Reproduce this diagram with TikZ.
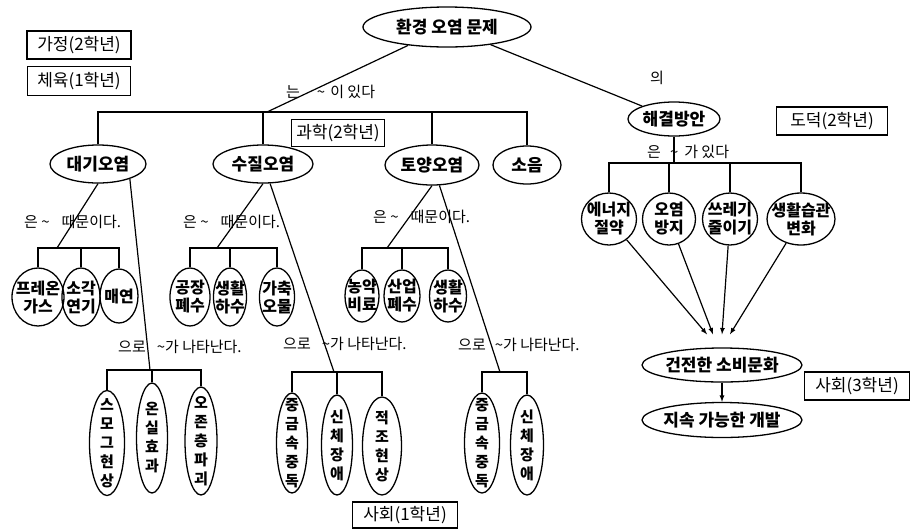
\documentclass[tikz,border=0pt]{standalone}
\usepackage{fontspec}
\setmainfont{Noto Sans CJK KR}
\usetikzlibrary{shapes.geometric,calc}

\begin{document}
\begin{tikzpicture}[x=1pt, y=-1pt,
  ell/.style={draw, ellipse, line width=1.3pt, inner sep=-12pt, font=\bfseries\fontsize{17}{19}\selectfont},
  sml/.style={ell, align=center, font=\bfseries\fontsize{16}{18}\selectfont},
  vrt/.style={ell, align=center, inner sep=-20pt, font=\bfseries\fontsize{15}{19}\selectfont},
  wh/.style 2 args={minimum width=#1pt, minimum height=#2pt},
  subj/.style={draw, line width=1.2pt, inner sep=1pt, font=\fontsize{17}{19}\selectfont},
  lbl/.style={font=\fontsize{15}{17}\selectfont, inner sep=0pt},
  cn/.style={line width=1.2pt}]
\useasboundingbox (0,0) rectangle (911,531);
\node[ell, wh={168}{40}] (top) at (447,27) {환경 오염 문제};
\node[ell, wh={96}{38}] (daegi) at (98,164) {대기오염};
\node[ell, wh={100}{38}] (sujil) at (263,164) {수질오염};
\node[ell, wh={94}{40}] (toyang) at (432,165) {토양오염};
\node[ell, wh={68}{38}] (soeum) at (527,165) {소음};
\node[ell, wh={92}{34}] (haegyeol) at (674,119) {해결방안};
\node[sml, wh={52}{58}] (freon) at (38,297) {프레온\\가스};
\node[sml, wh={38}{58}] (sogak) at (81,297) {소각\\연기};
\node[sml, wh={38}{54}] (maeyeon) at (119,296) {매연};
\node[sml, wh={40}{58}] (gongjang) at (190,297) {공장\\폐수};
\node[sml, wh={33}{58}] (saenghwal1) at (230,297) {생활\\하수};
\node[sml, wh={35}{58}] (gachuk) at (277,297) {가축\\오물};
\node[sml, wh={34}{52}] (nongyak) at (362,296) {농약\\비료};
\node[sml, wh={36}{52}] (saneop) at (402,296) {산업\\폐수};
\node[sml, wh={37}{52}] (saenghwal2) at (448,296) {생활\\하수};
\node[vrt, wh={35}{105}] (smog) at (107,443) {스\\모\\그\\현\\상};
\node[vrt, wh={31}{110}] (onsil) at (152,438) {온\\실\\효\\과};
\node[vrt, wh={32}{108}] (ozone) at (201,441) {오\\존\\층\\파\\괴};
\node[vrt, wh={31}{100}] (jung1) at (292,443) {중\\금\\속\\중\\독};
\node[vrt, wh={31}{100}] (sinche1) at (337,445) {신\\체\\장\\애};
\node[vrt, wh={39}{98}] (jeokjo) at (382,446) {적\\조\\현\\상};
\node[vrt, wh={35}{100}] (jung2) at (482,443) {중\\금\\속\\중\\독};
\node[vrt, wh={33}{100}] (sinche2) at (527,445) {신\\체\\장\\애};
\node[sml, wh={55}{52}] (energy) at (609,219) {에너지\\절약};
\node[sml, wh={53}{52}] (bangji) at (669,219) {오염\\방지};
\node[sml, wh={55}{52}] (sseuregi) at (730,219) {쓰레기\\줄이기};
\node[sml, wh={68}{52}] (seupgwan) at (801,219) {생활습관\\변화};
\node[ell, wh={160}{34}] (geonjeon) at (722,365) {건전한 소비문화};
\node[ell, wh={160}{35}] (jisok) at (722,420) {지속 가능한 개발};
\node[subj, minimum width=104pt, minimum height=28pt] (gajeong) at (79,45) {가정(2학년)};
\node[subj, minimum width=103pt, minimum height=29pt] (cheyuk) at (79,81) {체육(1학년)};
\node[subj, minimum width=93pt, minimum height=27pt] (gwahak) at (338,133) {과학(2학년)};
\node[subj, minimum width=111pt, minimum height=28pt] (dodeok) at (832,121) {도덕(2학년)};
\node[subj, minimum width=105pt, minimum height=28pt] (sahoe3) at (857,386) {사회(3학년)};
\node[subj, minimum width=105pt, minimum height=26pt] (sahoe1) at (405,515) {사회(1학년)};
\node[lbl, anchor=west] (lbl1) at (286,92) {는\hspace{17pt}\textasciitilde\hspace{5pt}이 있다};
\node[lbl] (lbl2) at (657,78) {의};
\node[lbl, anchor=west] (lbl3) at (647,152) {은\hspace{9pt}\textasciitilde\hspace{6pt}가 있다};
\node[lbl, anchor=west] (lbl4) at (24,222) {은 \textasciitilde\hspace{12pt}때문이다.};
\node[lbl, anchor=west] (lbl5) at (183,222) {은 \textasciitilde\hspace{12pt}때문이다.};
\node[lbl, anchor=west] (lbl6) at (373,217) {은 \textasciitilde\hspace{12pt}때문이다.};
\node[lbl, anchor=west] (lbl7) at (118,347) {으로\hspace{11pt}\textasciitilde 가 나타난다.};
\node[lbl, anchor=west] (lbl8) at (283,344) {으로\hspace{11pt}\textasciitilde 가 나타난다.};
\node[lbl, anchor=west] (lbl9) at (458,345) {으로\hspace{9pt}\textasciitilde 가 나타난다.};
\coordinate (hub) at (267,112);
\draw[cn] (top) -- (hub);
\draw[cn] (daegi.north) |- (hub) -| (soeum.north);
\draw[cn] (sujil.north) -- (sujil.north |- hub);
\draw[cn] (toyang.north) -- (toyang.north |- hub);
\draw[cn] (top) -- (haegyeol);
\coordinate (solhub) at (674,163);
\draw[cn] (haegyeol) -- (solhub);
\draw[cn] (energy.north) |- (solhub) -| (seupgwan.north);
\draw[cn] (bangji.north) -- (bangji.north |- solhub);
\draw[cn] (sseuregi.north) -- (sseuregi.north |- solhub);
\draw[cn, -latex] (energy) -- ([xshift=-15pt, yshift=13pt]geonjeon.north);
\draw[cn, -latex] (bangji) -- ([xshift=-9pt, yshift=13pt]geonjeon.north);
\draw[cn, -latex] (sseuregi) -- ([yshift=13pt]geonjeon.north);
\draw[cn, -latex] (seupgwan) -- ([xshift=8pt, yshift=13pt]geonjeon.north);
\draw[cn, -latex] (geonjeon) -- (jisok);
\coordinate (dh1) at (57,248);
\draw[cn] (daegi.south) -- (dh1);
\draw[cn] (freon.north) |- (dh1) -| (maeyeon.north);
\draw[cn] (sogak.north) -- (sogak.north |- dh1);
\coordinate (dh2) at (150,370);
\draw[cn] (daegi.-25) -- (dh2);
\draw[cn] (smog.north) |- (dh2) -| (ozone.north);
\draw[cn] (onsil.north) -- (onsil.north |- dh2);
\coordinate (sh1) at (217,248);
\draw[cn] (sujil.south) -- (sh1);
\draw[cn] (gongjang.north) |- (sh1) -| (gachuk.north);
\draw[cn] (saenghwal1.north) -- (saenghwal1.north |- sh1);
\coordinate (sh2) at (334,372);
\draw[cn] (sujil.-70) -- (sh2);
\draw[cn] (jung1.north) |- (sh2) -| (jeokjo.north);
\draw[cn] (sinche1.north) -- (sinche1.north |- sh2);
\coordinate (th1) at (387,248);
\draw[cn] (toyang.south) -- (th1);
\draw[cn] (nongyak.north) |- (th1) -| (saenghwal2.north);
\draw[cn] (saneop.north) -- (saneop.north |- th1);
\coordinate (th2) at (500,372);
\draw[cn] (toyang.-70) -- (th2);
\draw[cn] (jung2.north) |- (th2) -| (sinche2.north);
\end{tikzpicture}
\end{document}
